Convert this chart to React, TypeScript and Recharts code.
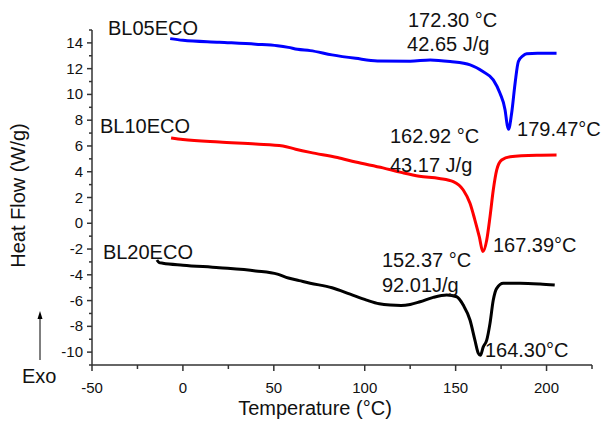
import React from "react";
import { LineChart, Line, XAxis, YAxis, ReferenceDot } from "recharts";

// BL05ECO
const bl05Temp = [-7, 0, 20, 40, 52, 58, 63, 70, 82, 95, 107, 125, 136, 147, 158, 165, 170.7, 174.4, 177.2, 178.4, 179.1, 180.8, 182.7, 184.5, 187, 189.1, 195, 205.5];
const bl05Flow = [14.33, 14.2, 14.05, 13.9, 13.78, 13.65, 13.5, 13.4, 13.07, 12.8, 12.6, 12.58, 12.68, 12.55, 12.29, 11.77, 11.13, 10.09, 8.8, 7.6, 7.3, 8.54, 10.87, 12.55, 13.0, 13.15, 13.2, 13.2];

// BL10ECO
const bl10Temp = [-6.5, 0, 20, 40, 55, 62, 70, 85, 95, 110, 120, 130, 141, 148.7, 154.2, 157.9, 160.6, 163, 165, 167.1, 168.9, 170.7, 172.6, 175.3, 180, 195, 205.5];
const bl10Flow = [6.62, 6.5, 6.3, 6.15, 6.0, 5.75, 5.5, 5.1, 4.75, 4.3, 3.95, 3.65, 3.48, 3.23, 2.58, 1.55, 0.25, -1.04, -2.2, -1.3, 0.5, 2.58, 4.14, 4.91, 5.17, 5.28, 5.3];

// BL20ECO
const bl20Temp = [-14.3, -13, -11, 0, 20, 40, 52, 58, 64, 70, 82, 92, 101, 108, 114, 120, 125, 130.4, 137.7, 145.1, 150.6, 154.2, 157.9, 160.6, 162.5, 163.6, 165.2, 167.1, 168.9, 170.7, 172.6, 176.2, 185.4, 196.4, 204.5];
const bl20Flow = [-2.85, -3.05, -3.1, -3.25, -3.45, -3.7, -3.95, -4.25, -4.45, -4.65, -5.0, -5.5, -5.96, -6.25, -6.35, -6.38, -6.3, -6.09, -5.75, -5.57, -5.7, -6.35, -7.51, -9.07, -10.1, -10.25, -9.59, -9.07, -7.77, -5.96, -5.05, -4.66, -4.66, -4.72, -4.8];

const xTicks = [-50, -25, 0, 25, 50, 75, 100, 125, 150, 175, 200, 225];
const yTicks = [-11, -10, -9, -8, -7, -6, -5, -4, -3, -2, -1, 0, 1, 2, 3, 4, 5, 6, 7, 8, 9, 10, 11, 12, 13, 14, 15];

// text labels placed in data units (left edge, baseline)
const notes = [
  { text: "BL05ECO", x: -41.2, y: 14.62 },
  { text: "BL10ECO", x: -45.6, y: 7.01 },
  { text: "BL20ECO", x: -44, y: -2.78 },
  { text: "172.30 °C", x: 123.8, y: 15.24 },
  { text: "42.65 J/g", x: 123.3, y: 13.38 },
  { text: "179.47°C", x: 183.8, y: 6.78 },
  { text: "162.92 °C", x: 113.9, y: 6.23 },
  { text: "43.17 J/g", x: 113.9, y: 3.98 },
  { text: "167.39°C", x: 170.5, y: -2.23 },
  { text: "152.37 °C", x: 109.5, y: -3.4 },
  { text: "92.01J/g", x: 109.5, y: -5.34 },
  { text: "164.30°C", x: 166.1, y: -10.39 },
];

const toPoints = (t: number[], h: number[]) => t.map((x, i) => ({ x, y: h[i] }));
const bl05 = toPoints(bl05Temp, bl05Flow);
const bl10 = toPoints(bl10Temp, bl10Flow);
const bl20 = toPoints(bl20Temp, bl20Flow);

const FONT = "'Liberation Sans', Arial, sans-serif";
const AXIS = "#333";

const XTick = (p: any) => {
  const v = p.payload.value;
  const major = v % 50 === 0;
  return (
    <g>
      <line x1={p.x} x2={p.x} y1={p.y} y2={p.y + (major ? 6 : 4)} stroke={AXIS} strokeWidth={1.5} />
      {major && v < 225 && (
        <text x={p.x} y={p.y + 28} textAnchor="middle" fontSize={15} fontFamily={FONT} fill="#111">{v}</text>
      )}
    </g>
  );
};

const YTick = (p: any) => {
  const v = p.payload.value;
  const major = v % 2 === 0;
  return (
    <g>
      <line x1={p.x} x2={p.x - (major ? 5 : 3)} y1={p.y} y2={p.y} stroke={AXIS} strokeWidth={1.5} />
      {major && (
        <text x={p.x - 9} y={p.y + 5} textAnchor="end" fontSize={15} fontFamily={FONT} fill="#111">{v}</text>
      )}
    </g>
  );
};

const YLabel = (p: any) => {
  const vb = p.viewBox;
  const cx = vb.x + 25;
  const cy = vb.y + vb.height / 2 - 2;
  return (
    <g>
      <text x={cx} y={cy} transform={`rotate(-90, ${cx}, ${cy})`} textAnchor="middle" fontSize={20} fontFamily={FONT} fill="#111">Heat Flow (W/g)</text>
      <line x1={40} x2={40} y1={360} y2={318} stroke="#000" strokeWidth={1} />
      <polygon points="40,311 37.5,319 42.5,319" fill="#000" />
      <text x={22} y={383} fontSize={20} fontFamily={FONT} fill="#111">Exo</text>
    </g>
  );
};

const XLabel = (p: any) => {
  const vb = p.viewBox;
  return (
    <text x={vb.x + 223} y={vb.y + 50} textAnchor="middle" fontSize={20} fontFamily={FONT} fill="#111">Temperature (°C)</text>
  );
};

export default function App() {
  return (
    <div style={{ position: "absolute", left: 0, top: 0, background: "#fff" }}>
      <LineChart width={607} height={424} margin={{ top: 30, right: 15, bottom: 0, left: 0 }}>
        <XAxis
          type="number"
          dataKey="x"
          domain={[-50, 225]}
          ticks={xTicks}
          interval={0}
          allowDataOverflow
          height={59}
          tickSize={0}
          tickMargin={0}
          tickLine={false}
          tick={<XTick />}
          axisLine={{ stroke: AXIS, strokeWidth: 1.5 }}
          label={<XLabel />}
        />
        <YAxis
          type="number"
          dataKey="y"
          domain={[-11, 15]}
          ticks={yTicks}
          interval={0}
          allowDataOverflow
          width={92}
          tickSize={0}
          tickMargin={0}
          tickLine={false}
          tick={<YTick />}
          axisLine={{ stroke: AXIS, strokeWidth: 1.5 }}
          label={<YLabel />}
        />
        <Line data={bl05} dataKey="y" type="monotone" stroke="#0000ff" strokeWidth={3} dot={false} isAnimationActive={false} />
        <Line data={bl10} dataKey="y" type="monotone" stroke="#ff0000" strokeWidth={3} dot={false} isAnimationActive={false} />
        <Line data={bl20} dataKey="y" type="monotone" stroke="#000000" strokeWidth={3} dot={false} isAnimationActive={false} />
        {notes.map((n) => (
          <ReferenceDot
            key={n.text}
            x={n.x}
            y={n.y}
            r={0}
            ifOverflow="visible"
            fill="none"
            stroke="none"
            label={(p: any) => (
              <text x={p.viewBox.x} y={p.viewBox.y} fontSize={20} fontFamily={FONT} fill="#111">{n.text}</text>
            )}
          />
        ))}
      </LineChart>
    </div>
  );
}
